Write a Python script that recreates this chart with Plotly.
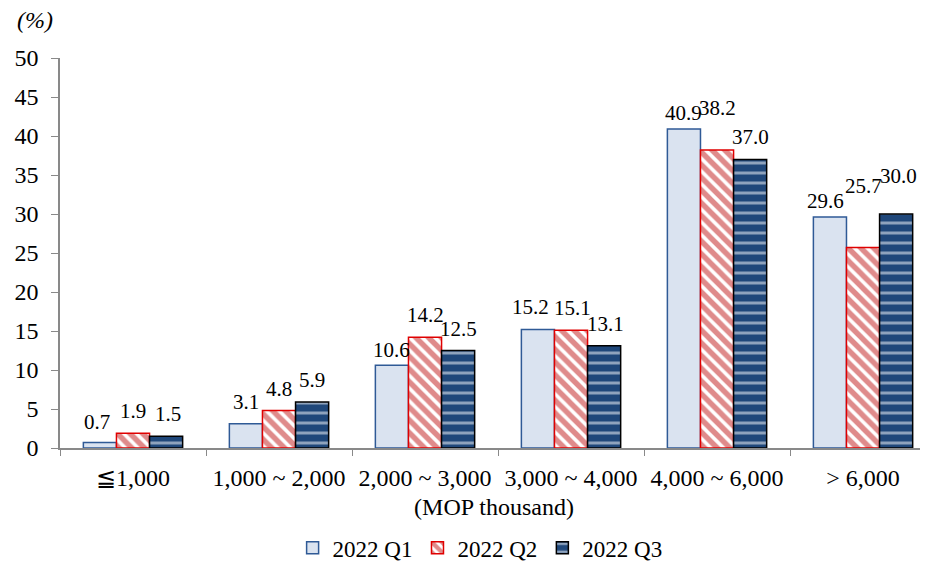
import plotly.graph_objects as go

categories = ["≦1,000", "1,000 ~ 2,000", "2,000 ~ 3,000", "3,000 ~ 4,000", "4,000 ~ 6,000", "> 6,000"]
q1 = [0.7, 3.1, 10.6, 15.2, 40.9, 29.6]
q2 = [1.9, 4.8, 14.2, 15.1, 38.2, 25.7]
q3 = [1.5, 5.9, 12.5, 13.1, 37.0, 30.0]
series_names = ["2022 Q1", "2022 Q2", "2022 Q3"]

# extra nudges (px) of individual data labels, as placed in the original
label_up_q1 = [-1, 0, -7, 0, -6, -6]
label_up_q2 = [0, 0, 0, 0, 20, 40]
label_up_q3 = [0, 0, 0, 0, 0, 16]
label_right_q1 = [-3, 0, 0, -7, 0, -4]
label_right_q2 = [0, 0, 0, 1, 0, 0]
label_right_q3 = [2, 0, 0, 1, 0, 2]

FONT = "Liberation Serif, Times New Roman, serif"

# layout geometry
FIG_W, FIG_H = 920, 557
M_L, M_R, M_T, M_B = 52, 0, 50, 117
BARGAP = 0.32
X_RANGE = [-0.5, 5.445]
px_per_cat = (FIG_W - M_L - M_R) / (X_RANGE[1] - X_RANGE[0])
bar_px = px_per_cat * (1 - BARGAP) / 3

fig = go.Figure()
fig.add_trace(go.Bar(
    x=categories, y=q1, name=series_names[0],
    marker=dict(color="#dae3f0", line=dict(color="#2f5a96", width=1.5)),
))
fig.add_trace(go.Bar(
    x=categories, y=q2, name=series_names[1],
    marker=dict(color="white", line=dict(color="#e00000", width=1.5),
                pattern=dict(shape="\\", fgcolor="#c01818", bgcolor="white", size=9, solidity=0.6)),
))
fig.add_trace(go.Bar(
    x=categories, y=q3, name=series_names[2],
    marker=dict(color="#1f477a", line=dict(color="black", width=1.5),
                pattern=dict(shape="-", fgcolor="white", bgcolor="#1f477a", size=10, solidity=0.3)),
))

annotations = []
series = [(q1, label_up_q1, label_right_q1), (q2, label_up_q2, label_right_q2), (q3, label_up_q3, label_right_q3)]
for i, (vals, ups, rights) in enumerate(series):
    for cat, v, u, r in zip(categories, vals, ups, rights):
        annotations.append(dict(
            x=cat, y=v, xref="x", yref="y", text=f"{v:.1f}", showarrow=False,
            xanchor="center", yanchor="bottom", xshift=(i - 1) * bar_px + r, yshift=8 + u,
            font=dict(family=FONT, size=21, color="black"),
        ))
annotations.append(dict(text="<i>(%)</i>", xref="paper", yref="paper", x=-0.0058, y=1.0,
                        yshift=38, xanchor="right", yanchor="middle", showarrow=False,
                        font=dict(family=FONT, size=24)))

fig.update_layout(
    width=FIG_W, height=FIG_H,
    margin=dict(l=M_L, r=M_R, t=M_T, b=M_B, autoexpand=False),
    paper_bgcolor="white", plot_bgcolor="white",
    font=dict(family=FONT, size=24, color="black"),
    barmode="group", bargap=BARGAP, bargroupgap=0,
    legend=dict(orientation="h", x=0.484, xanchor="center", y=-0.256, yanchor="middle",
                font=dict(family=FONT, size=23), itemwidth=30, tracegroupgap=0),
    xaxis=dict(
        range=X_RANGE, tickson="boundaries", ticks="outside", ticklen=6,
        tickcolor="#898989", showline=True, linecolor="#898989", linewidth=1.5,
        tickfont=dict(family=FONT, size=24), ticklabelstandoff=7, automargin=False,
        title=dict(text="(MOP thousand)", font=dict(family=FONT, size=24), standoff=9),
        showgrid=False,
    ),
    yaxis=dict(
        range=[0, 50], dtick=5, ticks="outside", ticklen=7,
        tickcolor="#898989", showline=True, linecolor="#898989", linewidth=1.5,
        tickfont=dict(family=FONT, size=24), ticklabelstandoff=8, automargin=False,
        showgrid=False, zeroline=False,
    ),
    annotations=annotations,
)

fig.write_html("out.html")
